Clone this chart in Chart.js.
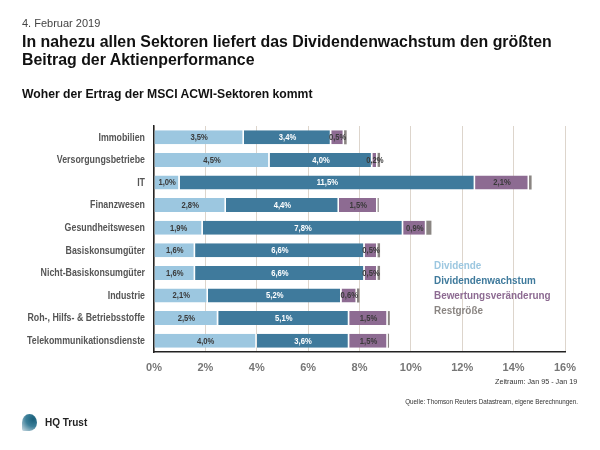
<!DOCTYPE html>
<html lang="de">
<head>
    <meta charset="UTF-8">
    <title>Dividendenwachstum nach Sektoren</title>
    <style>
        body { margin: 0; background: #fff; }
        #page { position: relative; width: 600px; height: 450px; overflow: hidden; font-family: 'Liberation Sans', Arial, sans-serif; }
        #page canvas { position: absolute; left: 0; top: 0; }
        .txt { position: absolute; white-space: nowrap; }
        #date { left: 22px; top: 17px; font-size: 11px; color: #444; }
        #title { left: 22px; top: 33px; font-size: 15.9px; font-weight: bold; color: #111; line-height: 18px; }
        #subtitle { left: 22px; top: 87px; font-size: 12.2px; font-weight: bold; color: #111; }
        #zeitraum { right: 23px; top: 377px; font-size: 8px; color: #333; transform: scaleX(0.9); transform-origin: right; }
        #quelle { right: 22px; top: 398px; font-size: 7px; color: #333; transform: scaleX(0.9); transform-origin: right; }
        #logo { left: 22px; top: 414px; width: 15px; height: 17px; border-radius: 50% 50% 50% 10%; background: radial-gradient(circle at 75% 30%, #1a5f7a 0%, #3c7f99 45%, #cfdde4 100%); }
        #brand { left: 45px; top: 417px; font-size: 10px; font-weight: bold; color: #222; }
    </style>
</head>
<body>
<script src="https://cdn.jsdelivr.net/npm/chart.js"></script>
<div id="page">
    <canvas id="chart" width="600" height="450"></canvas>
    <div class="txt" id="date">4. Februar 2019</div>
    <div class="txt" id="title">In nahezu allen Sektoren liefert das Dividendenwachstum den größten<br>Beitrag der Aktienperformance</div>
    <div class="txt" id="subtitle">Woher der Ertrag der MSCI ACWI-Sektoren kommt</div>
    <div class="txt" id="zeitraum">Zeitraum: Jan 95 - Jan 19</div>
    <div class="txt" id="quelle">Quelle: Thomson Reuters Datastream, eigene Berechnungen.</div>
    <div class="txt" id="logo"></div>
    <div class="txt" id="brand">HQ Trust</div>
</div>
<script>
    const sectors = ['Immobilien', 'Versorgungsbetriebe', 'IT', 'Finanzwesen', 'Gesundheitswesen',
        'Basiskonsumgüter', 'Nicht-Basiskonsumgüter', 'Industrie', 'Roh-, Hilfs- & Betriebsstoffe', 'Telekommunikationsdienste'];
    const dividende = [3.5, 4.5, 1.0, 2.8, 1.9, 1.6, 1.6, 2.1, 2.5, 4.0];
    const wachstum = [3.4, 4.0, 11.5, 4.4, 7.8, 6.6, 6.6, 5.2, 5.1, 3.6];
    const bewertung = [0.5, 0.2, 2.1, 1.5, 0.9, 0.5, 0.5, 0.6, 1.5, 1.5];
    const rest = [0.1, 0.1, 0.1, 0.05, 0.2, 0.1, 0.1, 0.1, 0.08, 0.05];
    const xTicks = [0, 2, 4, 6, 8, 10, 12, 14, 16];

    const fam = "'Liberation Sans', Arial, sans-serif";

    // schmal gestauchten Text zeichnen (Condensed-Schrift gibt es nicht)
    function condensed(ctx, text, x, y, sx) {
        ctx.save();
        ctx.translate(x, y);
        ctx.scale(sx, 1);
        ctx.fillText(text, 0, 0);
        ctx.restore();
    }

    // Werte in die Segmente schreiben
    const segmentLabels = {
        id: 'segmentLabels',
        afterDatasetsDraw(chart) {
            const ctx = chart.ctx;
            ctx.save();
            ctx.font = 'bold 9px ' + fam;
            ctx.textAlign = 'center';
            ctx.textBaseline = 'middle';
            chart.data.datasets.forEach((ds, i) => {
                if (!ds.showValues) return;
                chart.getDatasetMeta(i).data.forEach((bar, j) => {
                    ctx.fillStyle = ds.valueColor;
                    condensed(ctx, ds.data[j].toFixed(1).replace('.', ',') + '%', (bar.base + bar.x) / 2, bar.y + 0.5, 0.85);
                });
            });
            ctx.restore();
        }
    };

    // Sektornamen links, gestaucht
    const sectorLabels = {
        id: 'sectorLabels',
        afterDraw(chart) {
            const ctx = chart.ctx;
            const y = chart.scales.y;
            ctx.save();
            ctx.font = 'bold 10.5px ' + fam;
            ctx.textAlign = 'right';
            ctx.textBaseline = 'middle';
            ctx.fillStyle = '#555';
            chart.data.labels.forEach((lab, i) => {
                condensed(ctx, lab, y.right - 9, y.getPixelForTick(i) + 0.5, 0.84);
            });
            ctx.restore();
        }
    };

    // Legende als farbiger Text
    const textLegend = {
        id: 'textLegend',
        afterDraw(chart) {
            const ctx = chart.ctx;
            ctx.save();
            ctx.font = 'bold 11px ' + fam;
            ctx.textAlign = 'left';
            ctx.textBaseline = 'middle';
            chart.data.datasets.forEach((ds, i) => {
                ctx.fillStyle = ds.backgroundColor;
                condensed(ctx, ds.label, 434, 266 + i * 15, 0.9);
            });
            ctx.restore();
        }
    };

    const border = { left: 0, right: 1.5, top: 0, bottom: 0 };

    new Chart(document.getElementById('chart'), {
        type: 'bar',
        data: {
            labels: sectors,
            datasets: [
                { label: 'Dividende', data: dividende, backgroundColor: '#9cc7e0', borderColor: '#fff', borderWidth: border, borderSkipped: false, showValues: true, valueColor: '#3a3a3a' },
                { label: 'Dividendenwachstum', data: wachstum, backgroundColor: '#3f7a9c', borderColor: '#fff', borderWidth: border, borderSkipped: false, showValues: true, valueColor: '#ffffff' },
                { label: 'Bewertungsveränderung', data: bewertung, backgroundColor: '#8d6b92', borderColor: '#fff', borderWidth: border, borderSkipped: false, showValues: true, valueColor: '#3a3a3a' },
                { label: 'Restgröße', data: rest, backgroundColor: '#8a8582', borderWidth: 0, showValues: false }
            ]
        },
        options: {
            responsive: false,
            animation: false,
            indexAxis: 'y',
            barPercentage: 0.62,
            categoryPercentage: 1,
            layout: { padding: { left: 0, top: 126, right: 35, bottom: 68 } },
            plugins: { legend: { display: false }, tooltip: { enabled: false } },
            scales: {
                x: {
                    stacked: true,
                    min: 0,
                    max: 16,
                    afterBuildTicks(scale) { scale.ticks = xTicks.map(v => ({ value: v })); },
                    afterFit(scale) { scale.height = 30; },
                    grid: { color: '#ddd5cc', lineWidth: 1, drawTicks: false },
                    border: { display: true, color: '#222', width: 1.5 },
                    ticks: {
                        padding: 9,
                        color: '#777',
                        font: { family: fam, size: 11, weight: 'bold' },
                        callback: v => v + '%'
                    }
                },
                y: {
                    stacked: true,
                    afterFit(scale) { scale.width = 154; },
                    grid: { display: false, drawTicks: false },
                    border: { display: true, color: '#222', width: 1.5 },
                    ticks: { display: false }
                }
            }
        },
        plugins: [segmentLabels, sectorLabels, textLegend]
    });
</script>
</body>
</html>
